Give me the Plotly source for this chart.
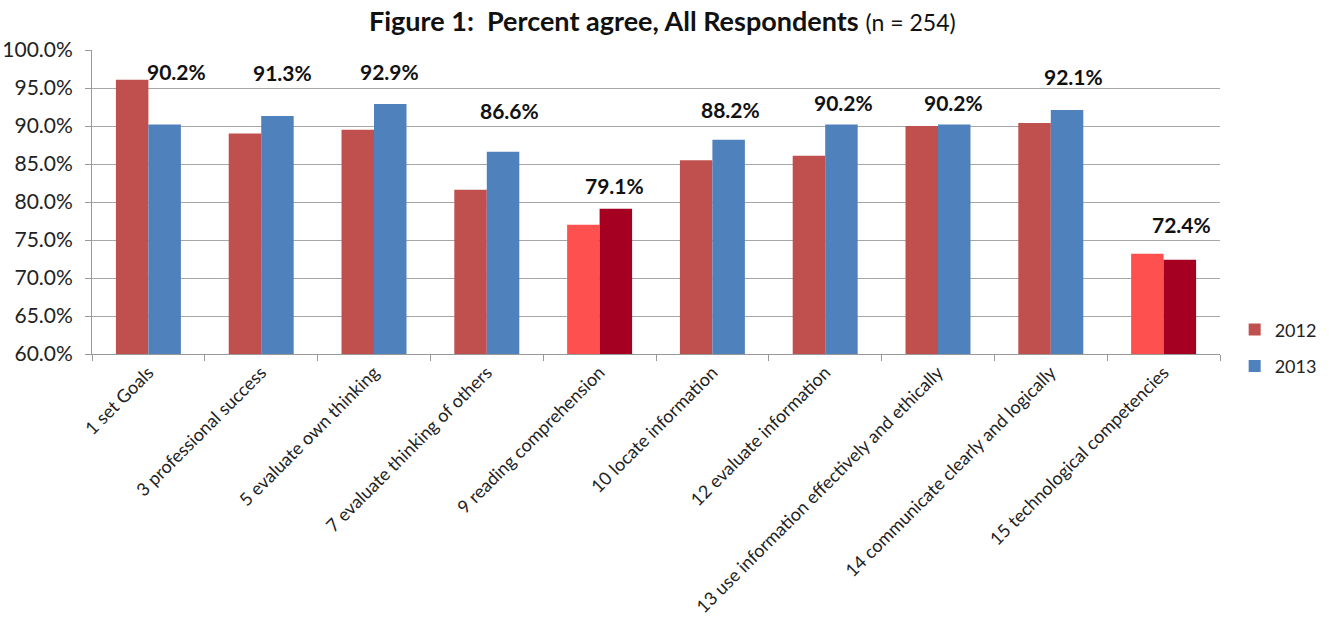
import plotly.graph_objects as go

categories = [
    "1 set Goals",
    "3 professional success",
    "5 evaluate own thinking",
    "7 evaluate thinking of others",
    "9 reading comprehension",
    "10 locate information",
    "12 evaluate information",
    "13 use information effectively and ethically",
    "14 communicate clearly and logically",
    "15 technological competencies",
]
values_2012 = [96.1, 89.0, 89.5, 81.6, 77.0, 85.5, 86.1, 90.0, 90.4, 73.2]
values_2013 = [90.2, 91.3, 92.9, 86.6, 79.1, 88.2, 90.2, 90.2, 92.1, 72.4]
highlight = [False, False, False, False, True, False, False, False, False, True]
y_ticks = [60, 65, 70, 75, 80, 85, 90, 95, 100]
y_tick_text = ["%.1f%%" % v for v in y_ticks]

# styles
C2012, C2013 = "#C0504D", "#4F81BD"
H2012, H2013 = "#FF5050", "#A50021"
label_yshift = [53, 44, 32, 41, 23, 30, 22, 22, 34, 35]
label_xshift = [28, 21, 15, 23, 15, 18, 18, 15, 23, 18]
FONT = "Lato"

colors_2012 = [H2012 if h else C2012 for h in highlight]
colors_2013 = [H2013 if h else C2013 for h in highlight]

fig = go.Figure()
fig.add_trace(go.Bar(x=categories, y=values_2012, name="2012",
                     marker=dict(color=colors_2012, line=dict(width=0)),
                     legendgroup="a"))
fig.add_trace(go.Bar(x=categories, y=values_2013, name="2013",
                     marker=dict(color=colors_2013, line=dict(width=0)),
                     legendgroup="b"))

for i, (c, v) in enumerate(zip(categories, values_2013)):
    fig.add_annotation(x=c, y=v, text="<b>%.1f%%</b>" % v, showarrow=False,
                       xshift=label_xshift[i], yshift=label_yshift[i],
                       yanchor="middle", xanchor="center",
                       font=dict(family=FONT, size=21, color="#111111"))

fig.update_layout(
    width=1330, height=620,
    paper_bgcolor="white", plot_bgcolor="white",
    margin=dict(l=92, r=110, t=50, b=266, autoexpand=False),
    barmode="group", bargap=0.424, bargroupgap=0,
    font=dict(family=FONT, size=17, color="#222222"),
    title=dict(text="<b>Figure 1:  Percent agree, All Respondents</b> <span style='font-size:23px'>(n = 254)</span>",
               x=0.498, xanchor="center", y=0.966, yanchor="middle",
               font=dict(family=FONT, size=27, color="#111111")),
    legend=dict(x=1.013, xanchor="left", y=0.02, yanchor="middle",
                traceorder="grouped", tracegroupgap=10,
                font=dict(family=FONT, size=18, color="#222222")),
    showlegend=True,
)
fig.update_xaxes(type="category", tickson="boundaries", ticks="outside", ticklen=6,
                 tickcolor="#999999", showline=True, linecolor="#999999", linewidth=1,
                 tickangle=-45, tickfont=dict(family=FONT, size=18, color="#222222"),
                 showgrid=False)
fig.update_yaxes(range=[60, 100], tickvals=y_ticks, ticktext=y_tick_text,
                 ticks="outside", ticklen=6, tickcolor="#999999",
                 showline=True, linecolor="#999999", linewidth=1,
                 showgrid=True, gridcolor="#A6A6A6", gridwidth=1,
                 tickfont=dict(family=FONT, size=21, color="#222222"),
                 ticklabelstandoff=8,
                 zeroline=False)

fig.write_html("out.html")
